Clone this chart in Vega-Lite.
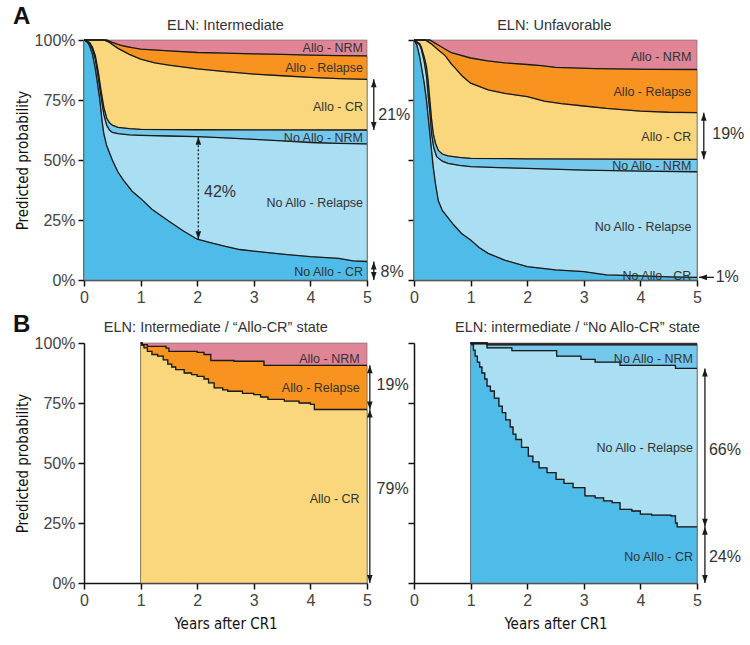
{
"$schema": "https://vega.github.io/schema/vega-lite/v6.json",
"background": "white",
"padding": {"left": 13, "top": 5, "right": 5, "bottom": 5},
"config": {
 "view": {"stroke": null},
 "font": "Liberation Sans",
 "axis": {"grid": false, "labelFlush": false, "domainColor": "#111", "domainWidth": 1.5, "tickColor": "#111", "tickWidth": 1.5, "tickSize": 6, "labelFontSize": 16, "labelColor": "#444", "labelFont": "Liberation Sans", "labelPadding": 3, "titleFont": "DejaVu Sans Condensed, Roboto, sans-serif", "titleFontSize": 15, "titleFontWeight": "normal", "titleColor": "#111"}
},
"datasets": {
 "c": [
  {"p":"a1","s":"Allo - NRM","x":0,"y":1},{"p":"a1","s":"Allo - NRM","x":5,"y":1},
  {"p":"a1","s":"Allo - Relapse","x":0,"y":1},{"p":"a1","s":"Allo - Relapse","x":0.4,"y":1},{"p":"a1","s":"Allo - Relapse","x":0.5,"y":0.99},{"p":"a1","s":"Allo - Relapse","x":0.6,"y":0.982},{"p":"a1","s":"Allo - Relapse","x":0.7,"y":0.975},{"p":"a1","s":"Allo - Relapse","x":0.85,"y":0.968},{"p":"a1","s":"Allo - Relapse","x":1,"y":0.962},{"p":"a1","s":"Allo - Relapse","x":1.5,"y":0.955},{"p":"a1","s":"Allo - Relapse","x":2,"y":0.948},{"p":"a1","s":"Allo - Relapse","x":2.5,"y":0.945},{"p":"a1","s":"Allo - Relapse","x":3,"y":0.942},{"p":"a1","s":"Allo - Relapse","x":3.5,"y":0.94},{"p":"a1","s":"Allo - Relapse","x":4,"y":0.937},{"p":"a1","s":"Allo - Relapse","x":4.5,"y":0.935},{"p":"a1","s":"Allo - Relapse","x":5,"y":0.934},
  {"p":"a1","s":"Allo - CR","x":0,"y":1},{"p":"a1","s":"Allo - CR","x":0.35,"y":1},{"p":"a1","s":"Allo - CR","x":0.45,"y":0.99},{"p":"a1","s":"Allo - CR","x":0.6,"y":0.965},{"p":"a1","s":"Allo - CR","x":0.8,"y":0.94},{"p":"a1","s":"Allo - CR","x":1,"y":0.92},{"p":"a1","s":"Allo - CR","x":1.25,"y":0.905},{"p":"a1","s":"Allo - CR","x":1.5,"y":0.895},{"p":"a1","s":"Allo - CR","x":2,"y":0.88},{"p":"a1","s":"Allo - CR","x":2.5,"y":0.868},{"p":"a1","s":"Allo - CR","x":3,"y":0.858},{"p":"a1","s":"Allo - CR","x":3.5,"y":0.851},{"p":"a1","s":"Allo - CR","x":4,"y":0.844},{"p":"a1","s":"Allo - CR","x":4.5,"y":0.839},{"p":"a1","s":"Allo - CR","x":5,"y":0.836},
  {"p":"a1","s":"No Allo - NRM","x":0,"y":1},{"p":"a1","s":"No Allo - NRM","x":0.1,"y":0.99},{"p":"a1","s":"No Allo - NRM","x":0.15,"y":0.97},{"p":"a1","s":"No Allo - NRM","x":0.2,"y":0.935},{"p":"a1","s":"No Allo - NRM","x":0.25,"y":0.87},{"p":"a1","s":"No Allo - NRM","x":0.3,"y":0.79},{"p":"a1","s":"No Allo - NRM","x":0.35,"y":0.72},{"p":"a1","s":"No Allo - NRM","x":0.4,"y":0.675},{"p":"a1","s":"No Allo - NRM","x":0.45,"y":0.655},{"p":"a1","s":"No Allo - NRM","x":0.5,"y":0.645},{"p":"a1","s":"No Allo - NRM","x":0.6,"y":0.636},{"p":"a1","s":"No Allo - NRM","x":0.8,"y":0.631},{"p":"a1","s":"No Allo - NRM","x":1,"y":0.628},{"p":"a1","s":"No Allo - NRM","x":2,"y":0.626},{"p":"a1","s":"No Allo - NRM","x":5,"y":0.625},
  {"p":"a1","s":"No Allo - Relapse","x":0,"y":1},{"p":"a1","s":"No Allo - Relapse","x":0.1,"y":0.985},{"p":"a1","s":"No Allo - Relapse","x":0.15,"y":0.96},{"p":"a1","s":"No Allo - Relapse","x":0.2,"y":0.92},{"p":"a1","s":"No Allo - Relapse","x":0.25,"y":0.845},{"p":"a1","s":"No Allo - Relapse","x":0.3,"y":0.765},{"p":"a1","s":"No Allo - Relapse","x":0.35,"y":0.69},{"p":"a1","s":"No Allo - Relapse","x":0.4,"y":0.645},{"p":"a1","s":"No Allo - Relapse","x":0.45,"y":0.625},{"p":"a1","s":"No Allo - Relapse","x":0.5,"y":0.615},{"p":"a1","s":"No Allo - Relapse","x":0.6,"y":0.61},{"p":"a1","s":"No Allo - Relapse","x":0.8,"y":0.605},{"p":"a1","s":"No Allo - Relapse","x":1,"y":0.603},{"p":"a1","s":"No Allo - Relapse","x":1.5,"y":0.6},{"p":"a1","s":"No Allo - Relapse","x":2,"y":0.597},{"p":"a1","s":"No Allo - Relapse","x":2.5,"y":0.592},{"p":"a1","s":"No Allo - Relapse","x":3,"y":0.586},{"p":"a1","s":"No Allo - Relapse","x":3.5,"y":0.58},{"p":"a1","s":"No Allo - Relapse","x":4,"y":0.573},{"p":"a1","s":"No Allo - Relapse","x":4.5,"y":0.569},{"p":"a1","s":"No Allo - Relapse","x":5,"y":0.567},
  {"p":"a1","s":"No Allo - CR","x":0,"y":1},{"p":"a1","s":"No Allo - CR","x":0.05,"y":0.995},{"p":"a1","s":"No Allo - CR","x":0.1,"y":0.975},{"p":"a1","s":"No Allo - CR","x":0.15,"y":0.94},{"p":"a1","s":"No Allo - CR","x":0.2,"y":0.88},{"p":"a1","s":"No Allo - CR","x":0.25,"y":0.8},{"p":"a1","s":"No Allo - CR","x":0.28,"y":0.75},{"p":"a1","s":"No Allo - CR","x":0.32,"y":0.66},{"p":"a1","s":"No Allo - CR","x":0.35,"y":0.61},{"p":"a1","s":"No Allo - CR","x":0.4,"y":0.56},{"p":"a1","s":"No Allo - CR","x":0.5,"y":0.5},{"p":"a1","s":"No Allo - CR","x":0.6,"y":0.45},{"p":"a1","s":"No Allo - CR","x":0.7,"y":0.415},{"p":"a1","s":"No Allo - CR","x":0.85,"y":0.37},{"p":"a1","s":"No Allo - CR","x":1,"y":0.34},{"p":"a1","s":"No Allo - CR","x":1.2,"y":0.295},{"p":"a1","s":"No Allo - CR","x":1.5,"y":0.245},{"p":"a1","s":"No Allo - CR","x":1.75,"y":0.205},{"p":"a1","s":"No Allo - CR","x":2,"y":0.17},{"p":"a1","s":"No Allo - CR","x":2.25,"y":0.155},{"p":"a1","s":"No Allo - CR","x":2.5,"y":0.14},{"p":"a1","s":"No Allo - CR","x":2.75,"y":0.127},{"p":"a1","s":"No Allo - CR","x":3,"y":0.12},{"p":"a1","s":"No Allo - CR","x":3.5,"y":0.108},{"p":"a1","s":"No Allo - CR","x":4,"y":0.097},{"p":"a1","s":"No Allo - CR","x":4.5,"y":0.09},{"p":"a1","s":"No Allo - CR","x":4.75,"y":0.08},{"p":"a1","s":"No Allo - CR","x":5,"y":0.077},

  {"p":"a2","s":"Allo - NRM","x":0,"y":1},{"p":"a2","s":"Allo - NRM","x":5,"y":1},
  {"p":"a2","s":"Allo - Relapse","x":0,"y":1},{"p":"a2","s":"Allo - Relapse","x":0.28,"y":1},{"p":"a2","s":"Allo - Relapse","x":0.35,"y":0.99},{"p":"a2","s":"Allo - Relapse","x":0.48,"y":0.972},{"p":"a2","s":"Allo - Relapse","x":0.66,"y":0.947},{"p":"a2","s":"Allo - Relapse","x":1,"y":0.925},{"p":"a2","s":"Allo - Relapse","x":1.3,"y":0.913},{"p":"a2","s":"Allo - Relapse","x":1.6,"y":0.905},{"p":"a2","s":"Allo - Relapse","x":2,"y":0.898},{"p":"a2","s":"Allo - Relapse","x":2.25,"y":0.893},{"p":"a2","s":"Allo - Relapse","x":2.5,"y":0.886},{"p":"a2","s":"Allo - Relapse","x":3.2,"y":0.881},{"p":"a2","s":"Allo - Relapse","x":4.2,"y":0.878},{"p":"a2","s":"Allo - Relapse","x":5,"y":0.877},
  {"p":"a2","s":"Allo - CR","x":0,"y":1},{"p":"a2","s":"Allo - CR","x":0.2,"y":1},{"p":"a2","s":"Allo - CR","x":0.3,"y":0.985},{"p":"a2","s":"Allo - CR","x":0.43,"y":0.958},{"p":"a2","s":"Allo - CR","x":0.55,"y":0.935},{"p":"a2","s":"Allo - CR","x":0.66,"y":0.9},{"p":"a2","s":"Allo - CR","x":0.72,"y":0.885},{"p":"a2","s":"Allo - CR","x":0.85,"y":0.85},{"p":"a2","s":"Allo - CR","x":1,"y":0.82},{"p":"a2","s":"Allo - CR","x":1.31,"y":0.792},{"p":"a2","s":"Allo - CR","x":1.6,"y":0.778},{"p":"a2","s":"Allo - CR","x":2,"y":0.764},{"p":"a2","s":"Allo - CR","x":2.3,"y":0.745},{"p":"a2","s":"Allo - CR","x":2.6,"y":0.735},{"p":"a2","s":"Allo - CR","x":3,"y":0.725},{"p":"a2","s":"Allo - CR","x":3.4,"y":0.715},{"p":"a2","s":"Allo - CR","x":4,"y":0.704},{"p":"a2","s":"Allo - CR","x":4.5,"y":0.699},{"p":"a2","s":"Allo - CR","x":5,"y":0.697},
  {"p":"a2","s":"No Allo - NRM","x":0,"y":1},{"p":"a2","s":"No Allo - NRM","x":0.1,"y":0.985},{"p":"a2","s":"No Allo - NRM","x":0.13,"y":0.97},{"p":"a2","s":"No Allo - NRM","x":0.18,"y":0.93},{"p":"a2","s":"No Allo - NRM","x":0.22,"y":0.89},{"p":"a2","s":"No Allo - NRM","x":0.25,"y":0.83},{"p":"a2","s":"No Allo - NRM","x":0.28,"y":0.75},{"p":"a2","s":"No Allo - NRM","x":0.31,"y":0.67},{"p":"a2","s":"No Allo - NRM","x":0.34,"y":0.61},{"p":"a2","s":"No Allo - NRM","x":0.38,"y":0.57},{"p":"a2","s":"No Allo - NRM","x":0.43,"y":0.54},{"p":"a2","s":"No Allo - NRM","x":0.5,"y":0.525},{"p":"a2","s":"No Allo - NRM","x":0.6,"y":0.517},{"p":"a2","s":"No Allo - NRM","x":0.8,"y":0.511},{"p":"a2","s":"No Allo - NRM","x":1,"y":0.507},{"p":"a2","s":"No Allo - NRM","x":2,"y":0.505},{"p":"a2","s":"No Allo - NRM","x":5,"y":0.503},
  {"p":"a2","s":"No Allo - Relapse","x":0,"y":1},{"p":"a2","s":"No Allo - Relapse","x":0.1,"y":0.98},{"p":"a2","s":"No Allo - Relapse","x":0.13,"y":0.96},{"p":"a2","s":"No Allo - Relapse","x":0.18,"y":0.91},{"p":"a2","s":"No Allo - Relapse","x":0.22,"y":0.85},{"p":"a2","s":"No Allo - Relapse","x":0.25,"y":0.77},{"p":"a2","s":"No Allo - Relapse","x":0.28,"y":0.7},{"p":"a2","s":"No Allo - Relapse","x":0.31,"y":0.61},{"p":"a2","s":"No Allo - Relapse","x":0.35,"y":0.55},{"p":"a2","s":"No Allo - Relapse","x":0.4,"y":0.514},{"p":"a2","s":"No Allo - Relapse","x":0.5,"y":0.495},{"p":"a2","s":"No Allo - Relapse","x":0.6,"y":0.486},{"p":"a2","s":"No Allo - Relapse","x":0.8,"y":0.478},{"p":"a2","s":"No Allo - Relapse","x":1,"y":0.472},{"p":"a2","s":"No Allo - Relapse","x":1.5,"y":0.468},{"p":"a2","s":"No Allo - Relapse","x":2,"y":0.465},{"p":"a2","s":"No Allo - Relapse","x":3,"y":0.458},{"p":"a2","s":"No Allo - Relapse","x":4,"y":0.454},{"p":"a2","s":"No Allo - Relapse","x":5,"y":0.451},
  {"p":"a2","s":"No Allo - CR","x":0,"y":1},{"p":"a2","s":"No Allo - CR","x":0.05,"y":0.98},{"p":"a2","s":"No Allo - CR","x":0.1,"y":0.93},{"p":"a2","s":"No Allo - CR","x":0.13,"y":0.89},{"p":"a2","s":"No Allo - CR","x":0.18,"y":0.82},{"p":"a2","s":"No Allo - CR","x":0.22,"y":0.75},{"p":"a2","s":"No Allo - CR","x":0.25,"y":0.68},{"p":"a2","s":"No Allo - CR","x":0.28,"y":0.61},{"p":"a2","s":"No Allo - CR","x":0.31,"y":0.54},{"p":"a2","s":"No Allo - CR","x":0.34,"y":0.47},{"p":"a2","s":"No Allo - CR","x":0.38,"y":0.4},{"p":"a2","s":"No Allo - CR","x":0.43,"y":0.33},{"p":"a2","s":"No Allo - CR","x":0.5,"y":0.29},{"p":"a2","s":"No Allo - CR","x":0.6,"y":0.26},{"p":"a2","s":"No Allo - CR","x":0.7,"y":0.23},{"p":"a2","s":"No Allo - CR","x":0.84,"y":0.194},{"p":"a2","s":"No Allo - CR","x":1,"y":0.167},{"p":"a2","s":"No Allo - CR","x":1.15,"y":0.135},{"p":"a2","s":"No Allo - CR","x":1.31,"y":0.111},{"p":"a2","s":"No Allo - CR","x":1.6,"y":0.083},{"p":"a2","s":"No Allo - CR","x":2,"y":0.056},{"p":"a2","s":"No Allo - CR","x":2.5,"y":0.042},{"p":"a2","s":"No Allo - CR","x":3,"y":0.035},{"p":"a2","s":"No Allo - CR","x":3.4,"y":0.021},{"p":"a2","s":"No Allo - CR","x":4,"y":0.017},{"p":"a2","s":"No Allo - CR","x":4.5,"y":0.013},{"p":"a2","s":"No Allo - CR","x":5,"y":0.011},

  {"p":"b1","s":"Allo - NRM","x":1,"y":1},{"p":"b1","s":"Allo - NRM","x":5,"y":1},
  {"p":"b1","s":"Allo - Relapse","x":1,"y":1},{"p":"b1","s":"Allo - Relapse","x":1.03,"y":0.993},{"p":"b1","s":"Allo - Relapse","x":1.12,"y":0.986},{"p":"b1","s":"Allo - Relapse","x":1.45,"y":0.979},{"p":"b1","s":"Allo - Relapse","x":1.5,"y":0.965},{"p":"b1","s":"Allo - Relapse","x":2,"y":0.961},{"p":"b1","s":"Allo - Relapse","x":2.12,"y":0.952},{"p":"b1","s":"Allo - Relapse","x":2.24,"y":0.927},{"p":"b1","s":"Allo - Relapse","x":2.65,"y":0.924},{"p":"b1","s":"Allo - Relapse","x":3.18,"y":0.907},{"p":"b1","s":"Allo - Relapse","x":5,"y":0.907},
  {"p":"b1","s":"Allo - CR","x":1,"y":1},{"p":"b1","s":"Allo - CR","x":1.02,"y":0.99},{"p":"b1","s":"Allo - CR","x":1.06,"y":0.98},{"p":"b1","s":"Allo - CR","x":1.12,"y":0.965},{"p":"b1","s":"Allo - CR","x":1.2,"y":0.952},{"p":"b1","s":"Allo - CR","x":1.3,"y":0.945},{"p":"b1","s":"Allo - CR","x":1.4,"y":0.93},{"p":"b1","s":"Allo - CR","x":1.48,"y":0.912},{"p":"b1","s":"Allo - CR","x":1.55,"y":0.9},{"p":"b1","s":"Allo - CR","x":1.62,"y":0.889},{"p":"b1","s":"Allo - CR","x":1.77,"y":0.875},{"p":"b1","s":"Allo - CR","x":1.9,"y":0.868},{"p":"b1","s":"Allo - CR","x":2,"y":0.861},{"p":"b1","s":"Allo - CR","x":2.12,"y":0.85},{"p":"b1","s":"Allo - CR","x":2.2,"y":0.834},{"p":"b1","s":"Allo - CR","x":2.3,"y":0.813},{"p":"b1","s":"Allo - CR","x":2.45,"y":0.805},{"p":"b1","s":"Allo - CR","x":2.54,"y":0.799},{"p":"b1","s":"Allo - CR","x":2.8,"y":0.79},{"p":"b1","s":"Allo - CR","x":3,"y":0.785},{"p":"b1","s":"Allo - CR","x":3.12,"y":0.775},{"p":"b1","s":"Allo - CR","x":3.25,"y":0.765},{"p":"b1","s":"Allo - CR","x":3.54,"y":0.758},{"p":"b1","s":"Allo - CR","x":3.8,"y":0.75},{"p":"b1","s":"Allo - CR","x":4,"y":0.744},{"p":"b1","s":"Allo - CR","x":4.07,"y":0.723},{"p":"b1","s":"Allo - CR","x":5,"y":0.723},

  {"p":"b2","s":"Allo - NRM","x":1,"y":1},{"p":"b2","s":"Allo - NRM","x":5,"y":1},
  {"p":"b2","s":"Allo - Relapse","x":1,"y":1},{"p":"b2","s":"Allo - Relapse","x":1.29,"y":0.996},{"p":"b2","s":"Allo - Relapse","x":5,"y":0.996},
  {"p":"b2","s":"No Allo - NRM","x":1,"y":1},{"p":"b2","s":"No Allo - NRM","x":1.29,"y":0.992},{"p":"b2","s":"No Allo - NRM","x":5,"y":0.992},
  {"p":"b2","s":"No Allo - Relapse","x":1,"y":1},{"p":"b2","s":"No Allo - Relapse","x":1.02,"y":0.996},{"p":"b2","s":"No Allo - Relapse","x":1.29,"y":0.98},{"p":"b2","s":"No Allo - Relapse","x":1.73,"y":0.968},{"p":"b2","s":"No Allo - Relapse","x":2.52,"y":0.945},{"p":"b2","s":"No Allo - Relapse","x":2.95,"y":0.932},{"p":"b2","s":"No Allo - Relapse","x":3.2,"y":0.92},{"p":"b2","s":"No Allo - Relapse","x":3.64,"y":0.907},{"p":"b2","s":"No Allo - Relapse","x":4.62,"y":0.894},{"p":"b2","s":"No Allo - Relapse","x":5,"y":0.894},
  {"p":"b2","s":"No Allo - CR","x":1,"y":1},{"p":"b2","s":"No Allo - CR","x":1.02,"y":0.993},{"p":"b2","s":"No Allo - CR","x":1.05,"y":0.97},{"p":"b2","s":"No Allo - CR","x":1.08,"y":0.945},{"p":"b2","s":"No Allo - CR","x":1.12,"y":0.92},{"p":"b2","s":"No Allo - CR","x":1.16,"y":0.9},{"p":"b2","s":"No Allo - CR","x":1.2,"y":0.875},{"p":"b2","s":"No Allo - CR","x":1.25,"y":0.85},{"p":"b2","s":"No Allo - CR","x":1.29,"y":0.82},{"p":"b2","s":"No Allo - CR","x":1.35,"y":0.8},{"p":"b2","s":"No Allo - CR","x":1.42,"y":0.77},{"p":"b2","s":"No Allo - CR","x":1.5,"y":0.737},{"p":"b2","s":"No Allo - CR","x":1.56,"y":0.71},{"p":"b2","s":"No Allo - CR","x":1.62,"y":0.68},{"p":"b2","s":"No Allo - CR","x":1.7,"y":0.65},{"p":"b2","s":"No Allo - CR","x":1.75,"y":0.62},{"p":"b2","s":"No Allo - CR","x":1.8,"y":0.598},{"p":"b2","s":"No Allo - CR","x":1.9,"y":0.565},{"p":"b2","s":"No Allo - CR","x":2.02,"y":0.529},{"p":"b2","s":"No Allo - CR","x":2.1,"y":0.505},{"p":"b2","s":"No Allo - CR","x":2.21,"y":0.48},{"p":"b2","s":"No Allo - CR","x":2.35,"y":0.46},{"p":"b2","s":"No Allo - CR","x":2.51,"y":0.432},{"p":"b2","s":"No Allo - CR","x":2.65,"y":0.415},{"p":"b2","s":"No Allo - CR","x":2.81,"y":0.397},{"p":"b2","s":"No Allo - CR","x":3.02,"y":0.363},{"p":"b2","s":"No Allo - CR","x":3.2,"y":0.355},{"p":"b2","s":"No Allo - CR","x":3.35,"y":0.342},{"p":"b2","s":"No Allo - CR","x":3.5,"y":0.335},{"p":"b2","s":"No Allo - CR","x":3.64,"y":0.307},{"p":"b2","s":"No Allo - CR","x":3.85,"y":0.3},{"p":"b2","s":"No Allo - CR","x":4,"y":0.287},{"p":"b2","s":"No Allo - CR","x":4.2,"y":0.283},{"p":"b2","s":"No Allo - CR","x":4.54,"y":0.28},{"p":"b2","s":"No Allo - CR","x":4.62,"y":0.25},{"p":"b2","s":"No Allo - CR","x":4.65,"y":0.234},{"p":"b2","s":"No Allo - CR","x":5,"y":0.234}
 ],
 "arr": [
  {"p":"a1","x":5.12,"x2":5.12,"y":0.625,"y2":0.836,"d":"solid"},
  {"p":"a1","x":5.12,"x2":5.12,"y":0,"y2":0.077,"d":"solid"},
  {"p":"a1","x":2.02,"x2":2.02,"y":0.17,"y2":0.597,"d":"dot"},
  {"p":"a2","x":5.12,"x2":5.12,"y":0.503,"y2":0.697,"d":"solid"},
  {"p":"a2","x":5.035,"x2":5.3,"y":0.011,"y2":0.011,"d":"solid"},
  {"p":"b1","x":5.05,"x2":5.05,"y":0.723,"y2":0.907,"d":"solid"},
  {"p":"b1","x":5.05,"x2":5.05,"y":0,"y2":0.723,"d":"solid"},
  {"p":"b2","x":5.14,"x2":5.14,"y":0.234,"y2":0.894,"d":"solid"},
  {"p":"b2","x":5.14,"x2":5.14,"y":0,"y2":0.234,"d":"solid"}
 ],
 "hd": [
  {"p":"a1","x":5.12,"y":0.836,"dir":"up"},{"p":"a1","x":5.12,"y":0.625,"dir":"down"},
  {"p":"a1","x":5.12,"y":0.077,"dir":"up"},{"p":"a1","x":5.12,"y":0,"dir":"down"},
  {"p":"a1","x":2.02,"y":0.597,"dir":"up"},{"p":"a1","x":2.02,"y":0.17,"dir":"down"},
  {"p":"a2","x":5.12,"y":0.697,"dir":"up"},{"p":"a2","x":5.12,"y":0.503,"dir":"down"},
  {"p":"a2","x":5.035,"y":0.011,"dir":"left"},
  {"p":"b1","x":5.05,"y":0.907,"dir":"up"},{"p":"b1","x":5.05,"y":0.723,"dir":"down"},
  {"p":"b1","x":5.05,"y":0.723,"dir":"up"},{"p":"b1","x":5.05,"y":0,"dir":"down"},
  {"p":"b2","x":5.14,"y":0.894,"dir":"up"},{"p":"b2","x":5.14,"y":0.234,"dir":"down"},
  {"p":"b2","x":5.14,"y":0.234,"dir":"up"},{"p":"b2","x":5.14,"y":0,"dir":"down"}
 ],
 "lab": [
  {"p":"a1","k":"t","x":2.5,"y":1.058,"text":"ELN: Intermediate"},
  {"p":"a1","k":"big","x":-1.1,"y":1.095,"text":"A"},
  {"p":"a1","k":"s","x":4.93,"y":0.967,"text":"Allo - NRM"},
  {"p":"a1","k":"s","x":4.93,"y":0.883,"text":"Allo - Relapse"},
  {"p":"a1","k":"s","x":4.93,"y":0.72,"text":"Allo - CR"},
  {"p":"a1","k":"s","x":4.93,"y":0.59,"text":"No Allo - NRM"},
  {"p":"a1","k":"s","x":4.93,"y":0.32,"text":"No Allo - Relapse"},
  {"p":"a1","k":"s","x":4.93,"y":0.033,"text":"No Allo - CR"},
  {"p":"a1","k":"pct","x":2.12,"y":0.367,"text":"42%"},
  {"p":"a1","k":"pct","x":5.2,"y":0.688,"text":"21%"},
  {"p":"a1","k":"pct","x":5.24,"y":0.035,"text":"8%"},
  {"p":"a2","k":"t","x":2.48,"y":1.058,"text":"ELN: Unfavorable"},
  {"p":"a2","k":"s","x":4.9,"y":0.929,"text":"Allo - NRM"},
  {"p":"a2","k":"s","x":4.9,"y":0.783,"text":"Allo - Relapse"},
  {"p":"a2","k":"s","x":4.9,"y":0.596,"text":"Allo - CR"},
  {"p":"a2","k":"s","x":4.9,"y":0.475,"text":"No Allo - NRM"},
  {"p":"a2","k":"s","x":4.9,"y":0.222,"text":"No Allo - Relapse"},
  {"p":"a2","k":"s","x":4.9,"y":0.018,"text":"No Allo - CR"},
  {"p":"a2","k":"pct","x":5.27,"y":0.61,"text":"19%"},
  {"p":"a2","k":"pct","x":5.33,"y":0.011,"text":"1%"},
  {"p":"b1","k":"t","x":2.33,"y":1.062,"text":"ELN: Intermediate / “Allo-CR” state"},
  {"p":"b1","k":"big","x":-1.1,"y":1.075,"text":"B"},
  {"p":"b1","k":"s","x":4.87,"y":0.934,"text":"Allo - NRM"},
  {"p":"b1","k":"s","x":4.87,"y":0.813,"text":"Allo - Relapse"},
  {"p":"b1","k":"s","x":4.87,"y":0.349,"text":"Allo - CR"},
  {"p":"b1","k":"pct","x":5.17,"y":0.826,"text":"19%"},
  {"p":"b1","k":"pct","x":5.17,"y":0.39,"text":"79%"},
  {"p":"b2","k":"t","x":2.89,"y":1.062,"text":"ELN: intermediate / “No Allo-CR” state"},
  {"p":"b2","k":"s","x":4.93,"y":0.934,"text":"No Allo - NRM"},
  {"p":"b2","k":"s","x":4.93,"y":0.564,"text":"No Allo - Relapse"},
  {"p":"b2","k":"s","x":4.93,"y":0.108,"text":"No Allo - CR"},
  {"p":"b2","k":"pct","x":5.21,"y":0.556,"text":"66%"},
  {"p":"b2","k":"pct","x":5.21,"y":0.108,"text":"24%"}
 ]
},
"bounds": "flush",
"columns": 2,
"spacing": {"row": 63, "column": 47},
"concat": [
 {"width": 283, "height": 240,
  "encoding": {"x": {"field": "x", "type": "quantitative", "scale": {"domain": [0,5], "nice": false, "zero": false}, "axis": {"values": [0,1,2,3,4,5], "format": "d", "title": null}},
               "y": {"field": "y", "type": "quantitative", "scale": {"domain": [0,1], "nice": false}, "axis": {"values": [0,0.25,0.5,0.75,1], "format": ".0%", "title": "Predicted probability", "titlePadding": 4}}},
  "layer": [
   {"data": {"name": "c"}, "transform": [{"filter": "datum.p==='a1'"}], "mark": {"type": "area", "interpolate": "linear", "stroke": "#666", "strokeWidth": 0.6}, "encoding": {"y2": {"datum": 0}, "color": {"field": "s", "type": "nominal", "scale": {"domain": ["No Allo - CR","No Allo - Relapse","No Allo - NRM","Allo - CR","Allo - Relapse","Allo - NRM"], "range": ["#4EBBE8","#AADEF3","#73C8EC","#FAD77D","#F7931E","#E08596"]}, "legend": null}}},
   {"data": {"name": "c"}, "transform": [{"filter": "datum.p==='a1' && datum.s!=='Allo - NRM'"}], "mark": {"type": "line", "interpolate": "linear", "color": "#1a1a1a", "strokeWidth": 1.3}, "encoding": {"detail": {"field": "s", "type": "nominal"}}},
   {"data": {"name": "arr"}, "transform": [{"filter": "datum.p==='a1'"}], "mark": {"type": "rule", "color": "#1a1a1a", "strokeWidth": 1.3}, "encoding": {"x2": {"field": "x2"}, "y2": {"field": "y2"}, "strokeDash": {"field": "d", "type": "nominal", "scale": {"domain": ["solid","dot"], "range": [[1,0],[2,2]]}, "legend": null}}},
   {"data": {"name": "hd"}, "transform": [{"filter": "datum.p==='a1'"}], "mark": {"type": "point", "filled": true, "color": "#1a1a1a", "opacity": 1, "size": 64, "strokeWidth": 0}, "encoding": {"shape": {"field": "dir", "type": "nominal", "scale": {"domain": ["up","down","left"], "range": ["M0,0L0.7,2L-0.7,2Z","M0,0L0.7,-2L-0.7,-2Z","M0,0L2,-0.7L2,0.7Z"]}, "legend": null}}},
   {"data": {"name": "lab"}, "transform": [{"filter": "datum.p==='a1' && datum.k==='s'"}], "mark": {"type": "text", "align": "right", "baseline": "middle", "fontSize": 12.5, "color": "#333"}, "encoding": {"text": {"field": "text"}}},
   {"data": {"name": "lab"}, "transform": [{"filter": "datum.p==='a1' && datum.k==='pct'"}], "mark": {"type": "text", "align": "left", "baseline": "middle", "fontSize": 16, "color": "#333"}, "encoding": {"text": {"field": "text"}}},
   {"data": {"name": "lab"}, "transform": [{"filter": "datum.p==='a1' && datum.k==='t'"}], "mark": {"type": "text", "align": "center", "baseline": "middle", "fontSize": 14.5, "color": "#333"}, "encoding": {"text": {"field": "text"}}},
   {"data": {"name": "lab"}, "transform": [{"filter": "datum.p==='a1' && datum.k==='big'"}], "mark": {"type": "text", "align": "center", "baseline": "middle", "fontSize": 24, "fontWeight": "bold", "color": "#111"}, "encoding": {"text": {"field": "text"}}}
  ]},
 {"width": 283, "height": 240,
  "encoding": {"x": {"field": "x", "type": "quantitative", "scale": {"domain": [0,5], "nice": false, "zero": false}, "axis": {"values": [0,1,2,3,4,5], "format": "d", "title": null}},
               "y": {"field": "y", "type": "quantitative", "scale": {"domain": [0,1], "nice": false}, "axis": {"values": [0,0.25,0.5,0.75,1], "labels": false, "title": null}}},
  "layer": [
   {"data": {"name": "c"}, "transform": [{"filter": "datum.p==='a2'"}], "mark": {"type": "area", "interpolate": "linear", "stroke": "#666", "strokeWidth": 0.6}, "encoding": {"y2": {"datum": 0}, "color": {"field": "s", "type": "nominal", "scale": {"domain": ["No Allo - CR","No Allo - Relapse","No Allo - NRM","Allo - CR","Allo - Relapse","Allo - NRM"], "range": ["#4EBBE8","#AADEF3","#73C8EC","#FAD77D","#F7931E","#E08596"]}, "legend": null}}},
   {"data": {"name": "c"}, "transform": [{"filter": "datum.p==='a2' && datum.s!=='Allo - NRM'"}], "mark": {"type": "line", "interpolate": "linear", "color": "#1a1a1a", "strokeWidth": 1.3}, "encoding": {"detail": {"field": "s", "type": "nominal"}}},
   {"data": {"name": "arr"}, "transform": [{"filter": "datum.p==='a2'"}], "mark": {"type": "rule", "color": "#1a1a1a", "strokeWidth": 1.3}, "encoding": {"x2": {"field": "x2"}, "y2": {"field": "y2"}}},
   {"data": {"name": "hd"}, "transform": [{"filter": "datum.p==='a2'"}], "mark": {"type": "point", "filled": true, "color": "#1a1a1a", "opacity": 1, "size": 64, "strokeWidth": 0}, "encoding": {"shape": {"field": "dir", "type": "nominal", "scale": {"domain": ["up","down","left"], "range": ["M0,0L0.7,2L-0.7,2Z","M0,0L0.7,-2L-0.7,-2Z","M0,0L2,-0.7L2,0.7Z"]}, "legend": null}}},
   {"data": {"name": "lab"}, "transform": [{"filter": "datum.p==='a2' && datum.k==='s'"}], "mark": {"type": "text", "align": "right", "baseline": "middle", "fontSize": 12.5, "color": "#333"}, "encoding": {"text": {"field": "text"}}},
   {"data": {"name": "lab"}, "transform": [{"filter": "datum.p==='a2' && datum.k==='pct'"}], "mark": {"type": "text", "align": "left", "baseline": "middle", "fontSize": 16, "color": "#333"}, "encoding": {"text": {"field": "text"}}},
   {"data": {"name": "lab"}, "transform": [{"filter": "datum.p==='a2' && datum.k==='t'"}], "mark": {"type": "text", "align": "center", "baseline": "middle", "fontSize": 14.5, "color": "#333"}, "encoding": {"text": {"field": "text"}}}
  ]},
 {"width": 283, "height": 240,
  "encoding": {"x": {"field": "x", "type": "quantitative", "scale": {"domain": [0,5], "nice": false, "zero": false}, "axis": {"values": [0,1,2,3,4,5], "format": "d", "title": "Years after CR1", "titlePadding": 8}},
               "y": {"field": "y", "type": "quantitative", "scale": {"domain": [0,1], "nice": false}, "axis": {"values": [0,0.25,0.5,0.75,1], "format": ".0%", "title": "Predicted probability", "titlePadding": 4}}},
  "layer": [
   {"data": {"name": "c"}, "transform": [{"filter": "datum.p==='b1'"}], "mark": {"type": "area", "interpolate": "step-after", "stroke": "#666", "strokeWidth": 0.6}, "encoding": {"y2": {"datum": 0}, "color": {"field": "s", "type": "nominal", "scale": {"domain": ["No Allo - CR","No Allo - Relapse","No Allo - NRM","Allo - CR","Allo - Relapse","Allo - NRM"], "range": ["#4EBBE8","#AADEF3","#73C8EC","#FAD77D","#F7931E","#E08596"]}, "legend": null}}},
   {"data": {"name": "c"}, "transform": [{"filter": "datum.p==='b1' && datum.s!=='Allo - NRM'"}], "mark": {"type": "line", "interpolate": "step-after", "color": "#1a1a1a", "strokeWidth": 1.3}, "encoding": {"detail": {"field": "s", "type": "nominal"}}},
   {"data": {"name": "arr"}, "transform": [{"filter": "datum.p==='b1'"}], "mark": {"type": "rule", "color": "#1a1a1a", "strokeWidth": 1.3}, "encoding": {"x2": {"field": "x2"}, "y2": {"field": "y2"}}},
   {"data": {"name": "hd"}, "transform": [{"filter": "datum.p==='b1'"}], "mark": {"type": "point", "filled": true, "color": "#1a1a1a", "opacity": 1, "size": 64, "strokeWidth": 0}, "encoding": {"shape": {"field": "dir", "type": "nominal", "scale": {"domain": ["up","down","left"], "range": ["M0,0L0.7,2L-0.7,2Z","M0,0L0.7,-2L-0.7,-2Z","M0,0L2,-0.7L2,0.7Z"]}, "legend": null}}},
   {"data": {"name": "lab"}, "transform": [{"filter": "datum.p==='b1' && datum.k==='s'"}], "mark": {"type": "text", "align": "right", "baseline": "middle", "fontSize": 12.5, "color": "#333"}, "encoding": {"text": {"field": "text"}}},
   {"data": {"name": "lab"}, "transform": [{"filter": "datum.p==='b1' && datum.k==='pct'"}], "mark": {"type": "text", "align": "left", "baseline": "middle", "fontSize": 16, "color": "#333"}, "encoding": {"text": {"field": "text"}}},
   {"data": {"name": "lab"}, "transform": [{"filter": "datum.p==='b1' && datum.k==='t'"}], "mark": {"type": "text", "align": "center", "baseline": "middle", "fontSize": 14.5, "color": "#333"}, "encoding": {"text": {"field": "text"}}},
   {"data": {"name": "lab"}, "transform": [{"filter": "datum.p==='b1' && datum.k==='big'"}], "mark": {"type": "text", "align": "center", "baseline": "middle", "fontSize": 24, "fontWeight": "bold", "color": "#111"}, "encoding": {"text": {"field": "text"}}}
  ]},
 {"width": 283, "height": 240,
  "encoding": {"x": {"field": "x", "type": "quantitative", "scale": {"domain": [0,5], "nice": false, "zero": false}, "axis": {"values": [0,1,2,3,4,5], "format": "d", "title": "Years after CR1", "titlePadding": 8}},
               "y": {"field": "y", "type": "quantitative", "scale": {"domain": [0,1], "nice": false}, "axis": {"values": [0,0.25,0.5,0.75,1], "labels": false, "title": null}}},
  "layer": [
   {"data": {"name": "c"}, "transform": [{"filter": "datum.p==='b2'"}], "mark": {"type": "area", "interpolate": "step-after", "stroke": "#666", "strokeWidth": 0.6}, "encoding": {"y2": {"datum": 0}, "color": {"field": "s", "type": "nominal", "scale": {"domain": ["No Allo - CR","No Allo - Relapse","No Allo - NRM","Allo - CR","Allo - Relapse","Allo - NRM"], "range": ["#4EBBE8","#AADEF3","#73C8EC","#FAD77D","#F7931E","#E08596"]}, "legend": null}}},
   {"data": {"name": "c"}, "transform": [{"filter": "datum.p==='b2' && datum.s!=='Allo - NRM'"}], "mark": {"type": "line", "interpolate": "step-after", "color": "#1a1a1a", "strokeWidth": 1.3}, "encoding": {"detail": {"field": "s", "type": "nominal"}}},
   {"data": {"name": "arr"}, "transform": [{"filter": "datum.p==='b2'"}], "mark": {"type": "rule", "color": "#1a1a1a", "strokeWidth": 1.3}, "encoding": {"x2": {"field": "x2"}, "y2": {"field": "y2"}}},
   {"data": {"name": "hd"}, "transform": [{"filter": "datum.p==='b2'"}], "mark": {"type": "point", "filled": true, "color": "#1a1a1a", "opacity": 1, "size": 64, "strokeWidth": 0}, "encoding": {"shape": {"field": "dir", "type": "nominal", "scale": {"domain": ["up","down","left"], "range": ["M0,0L0.7,2L-0.7,2Z","M0,0L0.7,-2L-0.7,-2Z","M0,0L2,-0.7L2,0.7Z"]}, "legend": null}}},
   {"data": {"name": "lab"}, "transform": [{"filter": "datum.p==='b2' && datum.k==='s'"}], "mark": {"type": "text", "align": "right", "baseline": "middle", "fontSize": 12.5, "color": "#333"}, "encoding": {"text": {"field": "text"}}},
   {"data": {"name": "lab"}, "transform": [{"filter": "datum.p==='b2' && datum.k==='pct'"}], "mark": {"type": "text", "align": "left", "baseline": "middle", "fontSize": 16, "color": "#333"}, "encoding": {"text": {"field": "text"}}},
   {"data": {"name": "lab"}, "transform": [{"filter": "datum.p==='b2' && datum.k==='t'"}], "mark": {"type": "text", "align": "center", "baseline": "middle", "fontSize": 14.5, "color": "#333"}, "encoding": {"text": {"field": "text"}}}
  ]}
]
}
